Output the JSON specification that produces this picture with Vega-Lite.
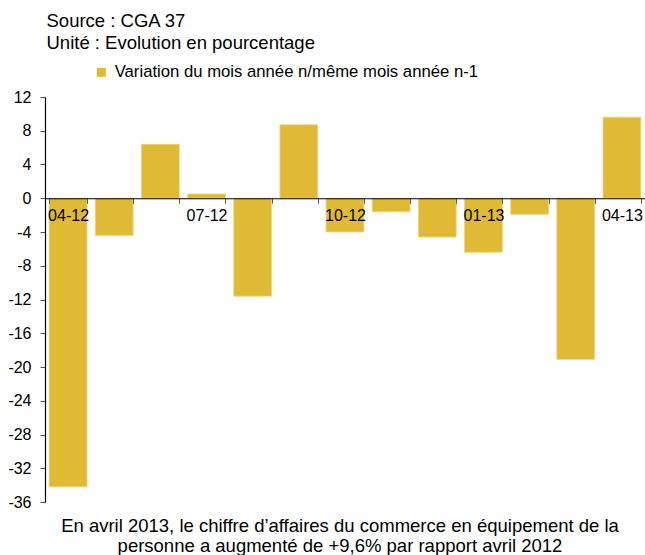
{
  "$schema": "https://vega.github.io/schema/vega-lite/v6.json",
  "width": 600,
  "height": 405,
  "autosize": {"type": "none"},
  "padding": {"left": 45, "top": 97, "right": 0, "bottom": 53},
  "background": "white",
  "config": {
    "font": "Liberation Sans",
    "view": {"stroke": null}
  },
  "title": {
    "text": ["En avril 2013, le chiffre d’affaires du commerce en équipement de la", "personne a augmenté de +9,6% par rapport avril 2012"],
    "orient": "bottom",
    "anchor": "middle",
    "frame": "group",
    "fontSize": 18.5,
    "fontWeight": "normal",
    "color": "black",
    "lineHeight": 20,
    "offset": 7,
    "dx": -5
  },
  "data": {
    "values": [
      {"mois": "04-12", "valeur": -34.2},
      {"mois": "05-12", "valeur": -4.4},
      {"mois": "06-12", "valeur": 6.4},
      {"mois": "07-12", "valeur": 0.5},
      {"mois": "08-12", "valeur": -11.6},
      {"mois": "09-12", "valeur": 8.7},
      {"mois": "10-12", "valeur": -4.0},
      {"mois": "11-12", "valeur": -1.6},
      {"mois": "12-12", "valeur": -4.6},
      {"mois": "01-13", "valeur": -6.4},
      {"mois": "02-13", "valeur": -1.9},
      {"mois": "03-13", "valeur": -19.1},
      {"mois": "04-13", "valeur": 9.6}
    ]
  },
  "mark": {"type": "bar", "stroke": "#EDD47E", "strokeWidth": 0.8},
  "encoding": {
    "x": {
      "field": "mois",
      "type": "ordinal",
      "sort": null,
      "scale": {"paddingInner": 0.18, "paddingOuter": 0.09},
      "axis": {
        "title": null,
        "zindex": 1,
        "offset": -303.75,
        "domainColor": "black",
        "domainWidth": 1.2,
        "tickColor": "#555",
        "tickSize": 5,
        "tickBand": "extent",
        "labelAngle": 0,
        "labelFontSize": 16,
        "labelColor": "black",
        "labelPadding": 4,
        "labelOverlap": false,
        "labelBound": false,
        "labelExpr": "indexof(['04-12','07-12','10-12','01-13','04-13'], datum.value) >= 0 ? datum.value : ''"
      }
    },
    "y": {
      "field": "valeur",
      "type": "quantitative",
      "scale": {"domain": [-36, 12], "nice": false},
      "axis": {
        "zindex": 1,
        "values": [-36, -32, -28, -24, -20, -16, -12, -8, -4, 0, 4, 8, 12],
        "labelExpr": "toString(datum.value)",
        "grid": false,
        "domainColor": "black",
        "domainWidth": 1.2,
        "tickColor": "#555",
        "tickSize": 5,
        "labelFontSize": 16,
        "labelColor": "black",
        "labelPadding": 9,
        "title": ["Source : CGA 37", "Unité : Evolution en pourcentage"],
        "titleAngle": 0,
        "titleAlign": "left",
        "titleBaseline": "top",
        "titleX": 1,
        "titleY": -86,
        "titleFontSize": 18.5,
        "titleFontWeight": "normal",
        "titleColor": "black",
        "titleLineHeight": 22
      }
    },
    "color": {
      "datum": "Variation du mois année n/même mois année n-1",
      "scale": {"range": ["#E0BA35"]},
      "legend": {
        "title": null,
        "orient": "none",
        "legendX": 48,
        "legendY": -33,
        "symbolType": "square",
        "symbolSize": 81,
        "symbolStrokeWidth": 0,
        "symbolOpacity": 1,
        "labelFontSize": 16.7,
        "labelColor": "black",
        "labelOffset": 5,
        "labelLimit": 0,
        "padding": 0
      }
    }
  }
}
